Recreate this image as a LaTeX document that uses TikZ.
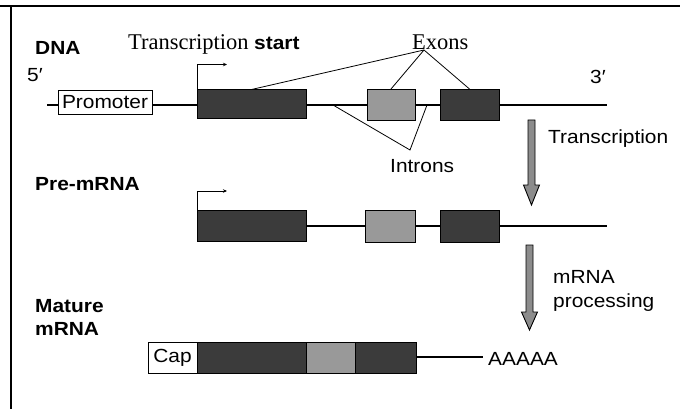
\documentclass[tikz,border=0pt]{standalone}
\usepackage{fontspec}
\setmainfont{Liberation Serif}
\setsansfont[FakeStretch=1.1]{Liberation Sans}
\usetikzlibrary{arrows.meta}
\definecolor{exdark}{gray}{0.23}
\definecolor{exlight}{gray}{0.6}
\definecolor{arrgray}{gray}{0.55}
\tikzset{
  lbl/.style={font=\sffamily\fontsize{19}{22}\selectfont, inner sep=0pt, anchor=base west},
  blbl/.style={font=\sffamily\bfseries\fontsize{19}{22}\selectfont, inner sep=0pt, anchor=base west},
  slbl/.style={font=\rmfamily\fontsize{22.5}{25}\selectfont, inner sep=0pt, anchor=base west},
  box/.style={draw=black, line width=0.9pt, inner sep=0pt, outer sep=0pt},
  darkex/.style={box, fill=exdark},
  lightex/.style={box, fill=exlight},
  whitebox/.style={box, fill=white, font=\sffamily\fontsize{19}{22}\selectfont},
  strand/.style={line width=1.3pt},
  thin/.style={line width=0.8pt},
  bent/.style={line width=0.8pt, -{Stealth[length=4pt,width=3.5pt]}},
  bigarr/.style={fill=arrgray, draw=black, line width=0.9pt, line join=miter},
}
\begin{document}
\begin{tikzpicture}[x=1pt,y=-1pt]
\useasboundingbox (0,0) rectangle (680,409);
% frame
\draw[line width=1.5pt] (0,6) -- (680,6);
\draw[line width=1.8pt] (11,6) -- (11,409);

% ---- DNA row ----
\node[blbl] (dna) at (35,55) {DNA};
\node[slbl] (ts) at (128,50) {Transcription \sffamily\bfseries\fontsize{19}{22}\selectfont start};
\node[slbl] (exons) at (412,50) {Exons};
\node[lbl] (five) at (27,82) {5′};
\node[lbl] (three) at (590,84) {3′};

\coordinate (dstart) at (47,105);
\coordinate (dend) at (607,105);
\node[whitebox, minimum width=94pt, minimum height=24pt] (prom) at (105,102) {Promoter};
\node[darkex, minimum width=109pt, minimum height=28.5pt] (d1) at (251.5,103.75) {};
\node[lightex, minimum width=48pt, minimum height=31pt] (d2) at (391,104.5) {};
\node[darkex, minimum width=59pt, minimum height=31pt] (d3) at (469.5,104.5) {};

\draw[strand] (dstart) -- (prom.west |- dstart);
\draw[strand] (prom.east |- dstart) -- (d1.west |- dstart);
\draw[strand] (d1.east |- dstart) -- (d2.west |- dstart);
\draw[strand] (d2.east |- dstart) -- (d3.west |- dstart);
\draw[strand] (d3.east |- dstart) -- (dend);

\draw[bent] (d1.north west) -- ++(0,-25) -- ++(30,0);

\coordinate (exv) at (424,50);
\draw[thin] (exv) -- (d1.north);
\draw[thin] (exv) -- (d2.north);
\draw[thin] (exv) -- (d3.north);

\node[lbl] (introns) at (390,172) {Introns};
\coordinate (inv) at (410,150);
\coordinate (i1) at (333,105);
\coordinate (i2) at (427,105);
\draw[thin] (i1) -- (inv) -- (i2);

% Transcription arrow
\draw[bigarr] (528,120) -- (535,120) -- (535,185) -- (539.5,185) -- (531.5,205) -- (523.5,185) -- (528,185) -- cycle;
\node[lbl] (tlab) at (548,143) {Transcription};

% ---- Pre-mRNA row ----
\node[blbl] (pre) at (35,190) {Pre-mRNA};
\coordinate (pend) at (607,226);
\node[darkex, minimum width=109pt, minimum height=31pt] (p1) at (251.5,225.5) {};
\node[lightex, minimum width=50pt, minimum height=32pt] (p2) at (390,226) {};
\node[darkex, minimum width=59pt, minimum height=32pt] (p3) at (469.5,226) {};
\draw[strand] (p1.east |- pend) -- (p2.west |- pend);
\draw[strand] (p2.east |- pend) -- (p3.west |- pend);
\draw[strand] (p3.east |- pend) -- (pend);
\draw[bent] (p1.north west) -- ++(0,-19) -- ++(30,0);

% processing arrow
\draw[bigarr] (526,245) -- (533,245) -- (533,312) -- (537.5,312) -- (529.5,330) -- (521.5,312) -- (526,312) -- cycle;
\node[lbl] (mlab1) at (553,283) {mRNA};
\node[lbl] (mlab2) at (553,307) {processing};

% ---- Mature mRNA row ----
\node[blbl] (mat1) at (35,312) {Mature};
\node[blbl] (mat2) at (35,335) {mRNA};
\node[whitebox, minimum width=49pt, minimum height=31pt] (cap) at (172.5,357.5) {Cap};
\node[darkex, minimum width=109pt, minimum height=31pt] (m1) at (251.5,357.5) {};
\node[lightex, minimum width=49pt, minimum height=31pt] (m2) at (330.5,357.5) {};
\node[darkex, minimum width=61pt, minimum height=31pt] (m3) at (385.5,357.5) {};
\coordinate (mend) at (483,357);
\draw[strand] (m3.east |- mend) -- (mend);
\node[lbl] (polya) at (488,365) {AAAAA};
\end{tikzpicture}
\end{document}
